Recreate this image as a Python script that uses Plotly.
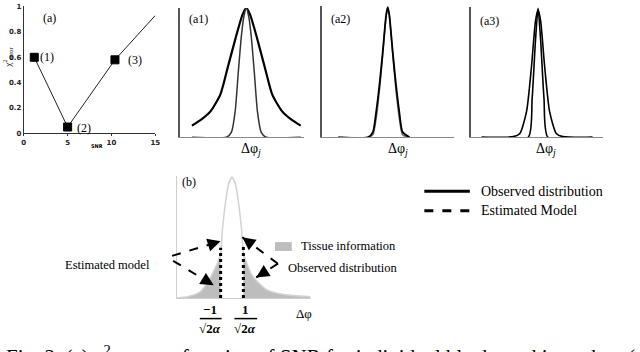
import plotly.graph_objects as go

W, H = 640, 352
SERIF = "Liberation Serif"

# (a) chi^2 error vs SNR
snr = [1.2, 5.0, 10.4, 15.0]
chi_err = [0.6, 0.05, 0.58, 0.93]
point_names = ["(1)", "(2)", "(3)"]

# (a1) wide observed + narrow model
a1_x = [-4.4, -3.6, -2.9, -2.1, -1.5, -0.8, -0.3, 0, 0.3, 0.8, 1.5, 2.1, 2.9, 3.6, 4.4]
a1_obs = [0.09, 0.14, 0.2, 0.33, 0.54, 0.79, 0.95, 1.0, 0.95, 0.79, 0.54, 0.33, 0.2, 0.14, 0.09]
a1_mod_x = [-4.4, -1.6, -1.2, -0.9, -0.65, -0.4, -0.2, 0, 0.2, 0.4, 0.65, 0.9, 1.2, 1.6, 4.4]
a1_mod = [0, 0, 0.04, 0.2, 0.5, 0.78, 0.93, 1.0, 0.93, 0.78, 0.5, 0.2, 0.04, 0, 0]

# (a2) both narrow, nearly identical
a2_x = [-4.0, -1.6, -1.2, -0.93, -0.65, -0.4, -0.13, 0, 0.13, 0.4, 0.65, 0.93, 1.2, 1.76]
a2_obs = [0, 0, 0.04, 0.2, 0.42, 0.66, 0.94, 1.0, 0.94, 0.66, 0.42, 0.2, 0.04, 0]
a2_mod = [0, 0, 0.02, 0.15, 0.38, 0.64, 0.93, 0.99, 0.93, 0.64, 0.38, 0.15, 0.02, 0]

# (a3) observed slightly wider than model
a3_x = [-4.56, -2.0, -1.47, -0.93, -0.53, -0.21, 0, 0.21, 0.53, 0.93, 1.47, 2.0, 4.4]
a3_obs = [0, 0.005, 0.03, 0.2, 0.55, 0.9, 0.99, 0.9, 0.55, 0.2, 0.03, 0.005, 0]
a3_mod_x = [-4.56, -0.8, -0.48, -0.21, 0, 0.21, 0.48, 0.8, 4.4]
a3_mod = [0, 0, 0.3, 0.75, 1.0, 0.75, 0.3, 0, 0]

# (b) observed distribution with tissue tails
b_x = [-4.8, -3.9, -2.8, -2.0, -1.4, -1.0, -0.87, -0.54, -0.3, 0, 0.3, 0.54, 0.87,
       1.0, 1.4, 1.8, 3.0, 4.4, 6.9]
b_y = [0.0, 0.01, 0.05, 0.15, 0.26, 0.36, 0.53, 0.8, 0.93, 0.985, 0.93, 0.8, 0.53,
       0.37, 0.26, 0.18, 0.07, 0.03, 0.01]
b_edges = [-1, 1]
b_edge_top = [0.41, 0.42]


def px(x):
    return x / W


def py(y):
    return 1 - y / H


fig = go.Figure()

# ---- panel (a)
fig.add_trace(go.Scatter(
    x=snr, y=chi_err, mode="lines+markers", xaxis="x", yaxis="y",
    line=dict(color="#222", width=1),
    marker=dict(symbol="square", size=[8, 8, 8, 0], color="#000", opacity=1,
                line=dict(width=1, color="#000")),
))

# ---- panels (a1)-(a3)
def curve(x, y, ax, color="black", width=2):
    fig.add_trace(go.Scatter(
        x=x, y=y, mode="lines", xaxis="x" + ax, yaxis="y" + ax,
        line=dict(color=color, width=width, shape="spline", smoothing=0.6),
    ))


curve(a1_x, a1_obs, "2", width=2.2)
curve(a1_mod_x, a1_mod, "2", color="#333", width=1.5)
curve(a2_x, a2_mod, "3", color="#666", width=1.5)
curve(a2_x, a2_obs, "3", width=1.8)
curve(a3_x, a3_obs, "4", width=1.6)
curve(a3_mod_x, a3_mod, "4", width=1.6)

# ---- panel (b)
left = [(x, y) for x, y in zip(b_x, b_y) if x <= b_edges[0]]
right = [(x, y) for x, y in zip(b_x, b_y) if x >= b_edges[1]]
for part in (left, right):
    fig.add_trace(go.Scatter(
        x=[p[0] for p in part], y=[p[1] for p in part], mode="lines",
        xaxis="x5", yaxis="y5", fill="tozeroy", fillcolor="#bdbdbd",
        line=dict(width=0, shape="spline"),
    ))
fig.add_trace(go.Scatter(
    x=b_x, y=b_y, mode="lines", xaxis="x5", yaxis="y5",
    line=dict(color="#d2d2d2", width=1.5, shape="spline", smoothing=0.6),
))
for xe, top in zip(b_edges, b_edge_top):
    fig.add_trace(go.Scatter(
        x=[xe, xe], y=[0, top], mode="lines", xaxis="x5", yaxis="y5",
        line=dict(color="black", width=3, dash="dot"),
    ))

plain = dict(showgrid=False, zeroline=False, showticklabels=False, ticks="",
             showline=True, fixedrange=True)
tiny = dict(size=7, family="DejaVu Sans", weight="bold", color="#222")

layout_axes = dict(
    xaxis=dict(domain=[px(22), px(155)], range=[0, 15], anchor="y",
               tickvals=[0, 5, 10, 15], showline=True, linecolor="#333",
               ticks="outside", ticklen=2, tickcolor="#333", showgrid=False,
               zeroline=False, tickfont=tiny),
    yaxis=dict(domain=[py(133), py(3)], range=[0, 1.005], anchor="x",
               tickvals=[0, 0.2, 0.4, 0.6, 0.8, 1],
               ticktext=["0", "0.2", "0.4", "0.6", "0.8", "1"],
               showline=True, linecolor="#333", ticks="", showgrid=False,
               zeroline=False, tickfont=tiny),
    xaxis2=dict(domain=[px(180), px(305)], range=[-5.36, 4.64], anchor="y2",
                linecolor="#888", **plain),
    yaxis2=dict(domain=[py(137), py(5)], range=[0, 1], anchor="x2",
                linecolor="#555", linewidth=1.5, **plain),
    xaxis3=dict(domain=[px(324), px(457)], range=[-5.28, 5.36], anchor="y3",
                linecolor="#888", **plain),
    yaxis3=dict(domain=[py(137), py(3)], range=[0, 1.01], anchor="x3",
                linecolor="#555", linewidth=1.5, **plain),
    xaxis4=dict(domain=[px(474), px(608)], range=[-5.44, 5.28], anchor="y4",
                linecolor="#888", **plain),
    yaxis4=dict(domain=[py(137), py(4)], range=[0, 1.01], anchor="x4",
                linecolor="#555", linewidth=1.5, **plain),
    xaxis5=dict(domain=[px(177), px(312)], range=[-4.83, 6.91], anchor="y5",
                linecolor="#cfcfcf", **plain),
    yaxis5=dict(domain=[py(301), py(176)], range=[0, 1], anchor="x5",
                linecolor="#cfcfcf", **plain),
)


def text(x, y, s, size=13, anchor="center", **kw):
    return dict(x=px(x), y=py(y), xref="paper", yref="paper", text=s,
                showarrow=False, xanchor=anchor, yanchor="middle",
                font=dict(family=SERIF, size=size, color="black"), **kw)


ann = [
    text(48, 15, "(a)", 12),
    text(45, 55, point_names[0], 12),
    text(83, 128, point_names[1], 12),
    text(134, 58, point_names[2], 12),
    text(6, 55, "χ<sup>2</sup><sub>error</sub>", 9, textangle=-90),
    dict(x=px(88), y=py(146), xref="paper", yref="paper", text="SNR", showarrow=False,
         font=dict(family="DejaVu Sans", size=5, color="black", weight="bold")),
    text(199, 16, "(a1)", 12),
    text(342, 16, "(a2)", 12),
    text(493, 18, "(a3)", 12),
    text(252, 149, "Δφ<i><sub>j</sub></i>", 14),
    text(400, 149, "Δφ<i><sub>j</sub></i>", 14),
    text(550, 149, "Δφ<i><sub>j</sub></i>", 14),
    text(189, 183, "(b)", 12),
    text(107, 267, "Estimated model", 12.5),
    text(300, 248, "Tissue information", 12.5, anchor="left"),
    text(287, 270, "Observed distribution", 12.5, anchor="left"),
    text(305, 317, "Δφ", 13),
    text(482, 192, "Observed distribution", 14, anchor="left"),
    text(482, 212, "Estimated Model", 14, anchor="left"),
    text(210, 313, "<b>−1</b>", 13),
    text(210, 332, "<b>√2<i>α</i></b>", 13),
    text(246, 313, "<b>1</b>", 13),
    text(246, 332, "<b>√2<i>α</i></b>", 13),
    dict(x=0.003, y=py(344), xref="paper", yref="paper", showarrow=False,
         xanchor="left", yanchor="top",
         text="Fig. 2. (a) χ<sup>2</sup><sub>error</sub> as a function of SNR for individual blocks and in each ... (",
         font=dict(family=SERIF, size=21, color="black")),
]

# dashed pointers with arrowheads in (b)
arrows = [((172, 258), (221, 243)), ((173, 263), (214, 288)),
          ((279, 266), (243, 239)), ((279, 266), (257, 280))]
shapes = []
for (x0, y0), (x1, y1) in arrows:
    shapes.append(dict(type="line", xref="paper", yref="paper",
                       x0=px(x0), y0=py(y0), x1=px(x1), y1=py(y1),
                       line=dict(color="black", width=2, dash="dash")))
    ann.append(dict(x=px(x1), y=py(y1), xref="paper", yref="paper", text="",
                    showarrow=True, arrowhead=2, arrowsize=1.3, arrowwidth=2,
                    arrowcolor="black", ax=(x0 - x1) * 0.2, ay=(y0 - y1) * 0.2))

shapes += [
    dict(type="line", xref="paper", yref="paper", x0=px(200), x1=px(222),
         y0=py(322), y1=py(322), line=dict(color="black", width=1.5)),
    dict(type="line", xref="paper", yref="paper", x0=px(235), x1=px(258),
         y0=py(322), y1=py(322), line=dict(color="black", width=1.5)),
    dict(type="rect", xref="paper", yref="paper", x0=px(276), x1=px(293),
         y0=py(253), y1=py(244), fillcolor="#bdbdbd", line=dict(width=0)),
    dict(type="line", xref="paper", yref="paper", x0=px(427), x1=px(473),
         y0=py(192), y1=py(192), line=dict(color="black", width=3)),
    dict(type="line", xref="paper", yref="paper", x0=px(427), x1=px(473),
         y0=py(212), y1=py(212), line=dict(color="black", width=3, dash="dash")),
]

fig.update_layout(
    width=W, height=H, margin=dict(l=0, r=0, t=0, b=0),
    paper_bgcolor="white", plot_bgcolor="white", showlegend=False,
    annotations=ann, shapes=shapes, **layout_axes,
)

fig.write_html("out.html", config={"displayModeBar": False},
               post_script="document.body.style.margin='0';")
